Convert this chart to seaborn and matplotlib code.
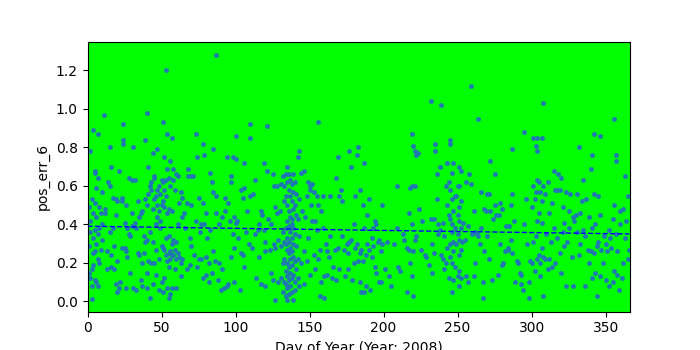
import matplotlib
matplotlib.use("Agg")
import matplotlib.pyplot as plt
import seaborn as sns
import pandas as pd

# (day, value) pairs, grouped by day ranges
d000 = [(1,0.15),(1,0.29),(1,0.49),(2,0.78),(2,0.36),(2,0.42),(2,0.12),(3,0.53),(3,0.17),(3,0.015),(3,0.08),(4,0.89),(4,0.46),(4,0.33),(4,0.19),(4,0.25),(5,0.68),(5,0.67),(5,0.51),(5,0.37),(5,0.26),(5,0.11),(6,0.59),(6,0.44),(6,0.3),(6,0.1),(7,0.87),(7,0.64),(7,0.35),(7,0.22),(7,0.08),(8,0.49),(8,0.38),(8,0.2),(9,0.46),(9,0.27),(10,0.57),(10,0.32),(10,0.4)]
d010 = [(11,0.97),(12,0.48),(12,0.46),(13,0.17),(13,0.26),(14,0.62),(15,0.8),(15,0.6),(15,0.36),(16,0.18),(16,0.24),(16,0.7),(17,0.54),(17,0.38),(18,0.17),(18,0.29),(19,0.45),(19,0.53),(19,0.09),(20,0.52),(20,0.05),(20,0.21)]
d020 = [(21,0.07),(21,0.68),(22,0.1),(23,0.28),(23,0.54),(23,0.52),(24,0.92),(24,0.84),(24,0.82),(25,0.41),(25,0.28),(26,0.26),(26,0.07),(26,0.5),(27,0.38),(27,0.23),(28,0.35),(28,0.64),(29,0.15),(29,0.34),(30,0.46),(30,0.63),(30,0.39)]
d030 = [(31,0.8),(31,0.07),(32,0.41),(32,0.63),(33,0.06),(33,0.38),(34,0.52),(34,0.25),(35,0.24),(35,0.44),(36,0.46),(36,0.11),(37,0.08),(37,0.47),(37,0.2),(38,0.34),(38,0.25),(39,0.31),(39,0.84),(39,0.53),(40,0.98),(40,0.32),(40,0.07),(40,0.15),(40,0.5)]
d040 = [(41,0.7),(41,0.56),(41,0.21),(42,0.02),(42,0.6),(42,0.36),(43,0.62),(43,0.58),(43,0.2),(44,0.77),(44,0.48),(44,0.31),(44,0.09),(45,0.65),(45,0.53),(45,0.64),(45,0.2),(46,0.55),(46,0.4),(46,0.27),(46,0.14),(47,0.79),(47,0.58),(47,0.5),(47,0.44),(48,0.6),(48,0.47),(48,0.22),(48,0.06),(49,0.56),(49,0.42),(49,0.38),(50,0.63),(50,0.5),(50,0.29),(50,0.1)]
d050 = [(51,0.93),(51,0.62),(51,0.52),(51,0.28),(51,0.05),(52,0.75),(52,0.58),(52,0.49),(52,0.27),(52,0.12),(53,1.2),(53,0.63),(53,0.55),(53,0.33),(53,0.24),(54,0.87),(54,0.69),(54,0.46),(54,0.21),(54,0.07),(55,0.64),(55,0.48),(55,0.34),(55,0.25),(55,0.02),(55,0.18),(56,0.73),(56,0.6),(56,0.26),(56,0.22),(56,0.04),(57,0.85),(57,0.47),(57,0.3),(57,0.24),(57,0.07),(58,0.69),(58,0.63),(58,0.32),(58,0.24),(59,0.58),(59,0.27),(59,0.17),(60,0.66),(60,0.31),(60,0.22),(60,0.07)]
d060 = [(61,0.65),(61,0.4),(61,0.25),(62,0.51),(62,0.23),(63,0.57),(63,0.2),(63,0.13),(64,0.54),(64,0.44),(64,0.22),(65,0.46),(66,0.38),(67,0.51),(67,0.17),(68,0.69),(68,0.65),(69,0.33),(69,0.19),(70,0.65),(70,0.29),(70,0.5)]
d070 = [(71,0.65),(72,0.24),(73,0.87),(73,0.42),(74,0.18),(74,0.75),(75,0.54),(75,0.22),(76,0.36),(77,0.22),(77,0.4),(78,0.82),(78,0.51),(78,0.12),(79,0.76),(79,0.4),(80,0.23),(80,0.46),(80,0.14)]
d080 = [(81,0.33),(82,0.1),(82,0.2),(83,0.67),(83,0.37),(84,0.62),(84,0.15),(85,0.79),(85,0.57),(85,0.26),(86,0.21),(87,1.28),(87,0.46),(87,0.55),(88,0.11),(89,0.4),(89,0.2),(90,0.06)]
d090 = [(91,0.17),(91,0.44),(92,0.07),(93,0.54),(93,0.47),(94,0.75),(94,0.08),(95,0.51),(95,0.09),(96,0.42),(97,0.65),(97,0.62),(97,0.23),(98,0.75),(98,0.35),(99,0.44),(99,0.28),(99,0.1),(100,0.74),(100,0.86),(100,0.41)]
d100 = [(101,0.42),(102,0.33),(103,0.06),(104,0.25),(104,0.58),(105,0.54),(105,0.24),(106,0.72),(106,0.59),(106,0.18),(107,0.36),(108,0.47),(109,0.3),(110,0.92),(110,0.85),(110,0.55)]
d110 = [(111,0.28),(112,0.56),(113,0.63),(113,0.35),(114,0.12),(115,0.37),(116,0.4),(116,0.23),(117,0.47),(117,0.09),(118,0.45),(119,0.72),(119,0.37),(120,0.31),(120,0.26),(120,0.08)]
d120 = [(121,0.91),(121,0.68),(122,0.43),(123,0.27),(124,0.4),(124,0.15),(125,0.66),(125,0.11),(126,0.6),(126,0.3),(127,0.01),(127,0.49),(127,0.28),(128,0.46),(128,0.6),(129,0.32),(129,0.1),(130,0.47)]
d130 = [(131,0.61),(131,0.29),(131,0.12),(132,0.65),(132,0.36),(132,0.2),(132,0.05),(133,0.6),(133,0.52),(133,0.31),(133,0.22),(133,0.1),(134,0.66),(134,0.55),(134,0.38),(134,0.3),(134,0.16),(134,0.03),(134,0.09),(135,0.7),(135,0.62),(135,0.5),(135,0.42),(135,0.33),(135,0.27),(135,0.2),(135,0.13),(135,0.07),(135,0.01),(136,0.66),(136,0.58),(136,0.47),(136,0.39),(136,0.31),(136,0.25),(136,0.18),(136,0.11),(136,0.04),(137,0.63),(137,0.55),(137,0.44),(137,0.36),(137,0.28),(137,0.22),(137,0.15),(137,0.08),(138,0.61),(138,0.52),(138,0.43),(138,0.4),(138,0.33),(138,0.26),(138,0.19),(138,0.12),(138,0.05),(139,0.66),(139,0.57),(139,0.48),(139,0.38),(139,0.3),(139,0.23),(139,0.14),(139,0.01),(140,0.62),(140,0.5),(140,0.35),(140,0.21),(140,0.1),(140,0.06),(141,0.56),(141,0.45),(141,0.29),(141,0.17),(142,0.75),(142,0.43),(142,0.22),(142,0.12),(143,0.78),(143,0.53),(143,0.34),(143,0.08)]
d143 = [(144,0.67),(144,0.2),(145,0.47),(146,0.68),(146,0.26),(146,0.09),(147,0.44),(148,0.55),(148,0.21),(149,0.62),(149,0.33),(150,0.6),(150,0.58),(150,0.14),(151,0.5),(152,0.61),(152,0.42),(153,0.57),(153,0.24),(154,0.42),(154,0.17),(155,0.55),(155,0.37),(156,0.93),(156,0.5),(156,0.22),(157,0.27),(157,0.03),(158,0.47),(158,0.1),(159,0.55),(159,0.38),(160,0.13),(160,0.02)]
d160 = [(161,0.3),(162,0.26),(162,0.14),(163,0.23),(164,0.55),(164,0.34),(165,0.12),(166,0.18),(167,0.27),(168,0.64),(168,0.11),(169,0.75),(169,0.28),(170,0.55),(170,0.17),(171,0.58),(172,0.52),(172,0.34),(173,0.27),(174,0.13),(175,0.3),(176,0.25),(176,0.17),(177,0.78),(177,0.31),(178,0.7),(178,0.32),(179,0.11),(180,0.4),(180,0.2)]
d180 = [(181,0.55),(181,0.28),(182,0.76),(182,0.3),(183,0.8),(183,0.21),(184,0.58),(184,0.25),(184,0.1),(185,0.27),(185,0.05),(186,0.5),(186,0.21),(187,0.72),(187,0.38),(187,0.05),(188,0.24),(188,0.08),(189,0.3),(189,0.45),(190,0.53),(190,0.27),(191,0.06),(192,0.33),(192,0.23),(193,0.38),(193,0.29),(194,0.42),(194,0.18),(195,0.4),(195,0.15),(196,0.31),(197,0.32),(197,0.1),(198,0.26),(198,0.1),(199,0.5),(199,0.3)]
d200 = [(201,0.17),(202,0.31),(204,0.13),(205,0.08),(207,0.3),(209,0.6),(209,0.38),(210,0.18),(211,0.16),(213,0.35),(214,0.32),(216,0.05),(216,0.28),(217,0.27),(217,0.46),(218,0.59),(218,0.2),(219,0.87),(219,0.6),(219,0.4),(219,0.13),(220,0.81),(220,0.26),(220,0.03),(221,0.78),(221,0.6),(221,0.32),(222,0.76),(222,0.34)]
d220 = [(223,0.77),(224,0.48),(225,0.27),(226,0.42),(228,0.24),(229,0.23),(231,0.19),(232,1.04),(232,0.43),(233,0.3),(233,0.15),(234,0.43),(234,0.25),(235,0.82),(235,0.78),(236,0.66),(236,0.53),(237,0.35),(237,0.4),(238,0.7),(238,0.37),(239,1.02),(239,0.24),(240,0.41),(240,0.22),(241,0.34),(241,0.17)]
d240 = [(242,0.2),(242,0.6),(243,0.72),(243,0.5),(243,0.28),(244,0.62),(244,0.45),(244,0.12),(245,0.84),(245,0.82),(245,0.58),(245,0.43),(245,0.3),(245,0.23),(246,0.67),(246,0.53),(246,0.4),(246,0.36),(246,0.2),(246,0.05),(247,0.72),(247,0.47),(247,0.31),(247,0.26),(247,0.11),(248,0.55),(248,0.38),(248,0.18),(249,0.55),(249,0.3),(250,0.6),(250,0.45),(250,0.35),(250,0.13),(251,0.7),(251,0.6),(251,0.49),(251,0.42),(251,0.32),(251,0.24),(251,0.16),(251,0.08),(252,0.68),(252,0.52),(252,0.38),(252,0.27),(252,0.12),(253,0.31),(254,0.41),(255,0.32),(256,0.62),(256,0.13),(257,0.39),(257,0.1),(258,0.66),(259,1.12),(259,0.61),(260,0.35)]
d260 = [(261,0.47),(261,0.13),(262,0.2),(262,0.36),(263,0.35),(264,0.95),(264,0.34),(265,0.3),(266,0.57),(266,0.38),(267,0.02),(267,0.1),(268,0.48),(268,0.26),(269,0.47),(270,0.56),(270,0.34),(271,0.56),(271,0.22),(272,0.73),(272,0.47),(273,0.11),(274,0.43),(275,0.66),(275,0.5),(276,0.45),(277,0.14),(278,0.45),(279,0.51),(279,0.3),(280,0.48),(280,0.19)]
d280 = [(281,0.2),(282,0.26),(283,0.39),(284,0.27),(284,0.28),(285,0.39),(286,0.5),(286,0.32),(287,0.56),(287,0.79),(287,0.25),(288,0.42),(289,0.1),(290,0.21),(291,0.2),(292,0.15),(293,0.09),(293,0.14),(294,0.06),(295,0.88),(295,0.4),(296,0.53),(297,0.3),(298,0.1),(298,0.02),(299,0.21),(300,0.49),(300,0.2)]
d300 = [(301,0.85),(301,0.6),(301,0.31),(302,0.53),(302,0.16),(303,0.81),(303,0.57),(303,0.34),(304,0.85),(304,0.78),(304,0.63),(304,0.42),(304,0.22),(305,0.62),(305,0.46),(305,0.24),(306,0.57),(306,0.2),(306,0.13),(307,0.85),(307,0.52),(307,0.41),(307,0.28),(308,1.03),(308,0.6),(308,0.23),(308,0.03),(309,0.56),(309,0.22),(310,0.35),(311,0.62),(311,0.17),(312,0.46),(312,0.22),(313,0.31),(314,0.51),(314,0.18),(315,0.68),(315,0.38),(316,0.58),(316,0.2),(317,0.58),(317,0.33),(318,0.66),(319,0.58),(319,0.25),(320,0.64),(320,0.15)]
d320 = [(321,0.49),(321,0.36),(322,0.41),(322,0.29),(323,0.57),(323,0.08),(324,0.31),(325,0.47),(325,0.38),(326,0.56),(327,0.23),(328,0.44),(328,0.08),(329,0.42),(330,0.45),(331,0.56),(331,0.36),(332,0.8),(332,0.24),(333,0.46),(333,0.3),(334,0.52),(335,0.63),(335,0.37),(336,0.08),(336,0.34),(337,0.53),(338,0.27),(339,0.44),(339,0.2),(340,0.69),(340,0.26)]
d340 = [(341,0.76),(341,0.38),(341,0.12),(342,0.87),(342,0.56),(342,0.25),(343,0.4),(343,0.15),(344,0.29),(344,0.03),(345,0.55),(345,0.31),(346,0.86),(346,0.45),(346,0.13),(347,0.27),(348,0.2),(349,0.34),(350,0.3),(350,0.11),(351,0.26),(352,0.37),(352,0.08),(353,0.33),(354,0.28),(355,0.43),(355,0.1),(356,0.95),(356,0.5),(356,0.16),(357,0.76),(357,0.73),(357,0.35),(358,0.26),(358,0.14),(359,0.06),(360,0.47),(360,0.4),(361,0.12),(362,0.2),(362,0.48),(363,0.65),(363,0.33),(364,0.42),(365,0.55),(365,0.22),(366,0.27)]

# trend line end points (dashed blue)
trend_days = [0, 366]
trend_vals = [0.391, 0.351]

x_label = "Day of Year (Year: 2008)"
y_label = "pos_err_6"
x_ticks = [0, 50, 100, 150, 200, 250, 300, 350]
y_ticks = [0.0, 0.2, 0.4, 0.6, 0.8, 1.0, 1.2]

groups = [d000, d010, d020, d030, d040, d050, d060, d070, d080, d090, d100, d110,
          d120, d130, d143, d160, d180, d200, d220, d240, d260, d280, d300, d320, d340]
pts = [p for g in groups for p in g]
df = pd.DataFrame(pts, columns=["day", "val"])
trend = pd.DataFrame({"day": trend_days, "val": trend_vals})

fig, ax = plt.subplots(figsize=(7, 3.5), dpi=100)
fig.subplots_adjust(left=0.125, right=0.9, top=0.88, bottom=0.11)
ax.set_facecolor("#00ff00")
sns.scatterplot(data=df, x="day", y="val", ax=ax, color="#1f77b4", s=12,
                linewidth=0, marker="o", zorder=2)
sns.lineplot(data=trend, x="day", y="val", ax=ax, color="blue", linestyle="--",
             linewidth=1, zorder=3)
ax.set_xlim(0, 366.5)
ax.set_ylim(-0.052, 1.348)
ax.set_xticks(x_ticks)
ax.set_yticks(y_ticks)
ax.set_xlabel(x_label)
ax.set_ylabel(y_label)
fig.savefig("out.png", dpi=100)
